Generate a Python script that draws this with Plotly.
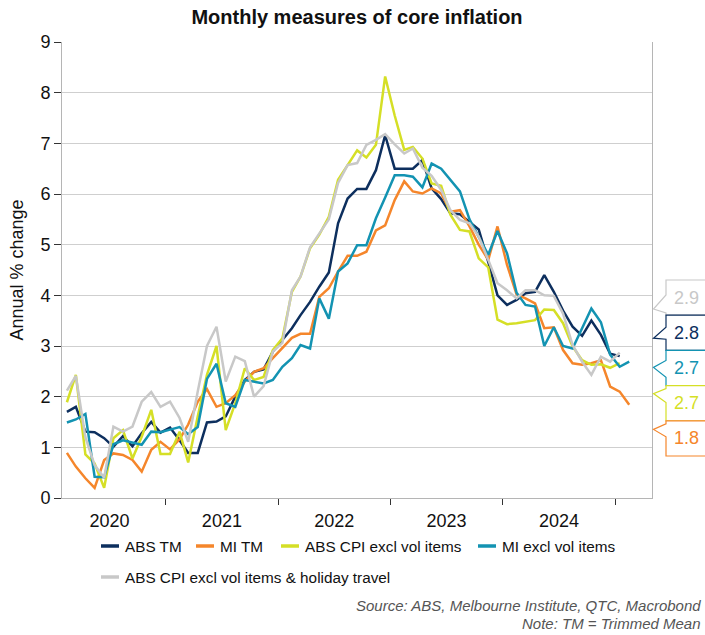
import plotly.graph_objects as go

# ---------------- data ----------------
# monthly observations, Feb 2020 .. Feb 2025 (plotted mid-month)
months = [f"{2020 + (m // 12)}-{m % 12 + 1:02d}-15" for m in range(1, 62)]

abs_tm = [1.70, 1.80, 1.31, 1.30, 1.18, 1.01, 1.22, 1.02, 1.28, 1.50, 1.29, 1.39,
          1.14, 0.89, 0.89, 1.49, 1.51, 1.61, 2.00, 2.33, 2.49, 2.54, 2.89, 3.12,
          3.35, 3.61, 3.87, 4.17, 4.45, 5.42, 5.91, 6.10, 6.10, 6.47, 7.16, 6.50,
          6.50, 6.50, 6.67, 6.11, 5.90, 5.62, 5.60, 5.45, 5.30, 4.66, 4.00, 3.81,
          3.91, 4.04, 4.07, 4.40, 4.07, 3.70, 3.38, 3.20, 3.50, 3.22, 2.85, 2.80]

mi_tm = [0.89, 0.62, 0.39, 0.20, 0.75, 0.88, 0.85, 0.75, 0.52, 0.95, 1.11, 0.96,
         1.16, 1.45, 1.90, 2.15, 1.80, 1.87, 2.03, 2.30, 2.49, 2.56, 2.76, 2.95,
         3.16, 3.24, 3.24, 3.97, 4.14, 4.47, 4.78, 4.78, 4.86, 5.28, 5.38, 5.88,
         6.25, 6.05, 6.01, 6.11, 6.01, 5.65, 5.68, 5.36, 5.00, 4.70, 5.36, 4.60,
         4.02, 3.94, 3.84, 3.35, 3.37, 2.92, 2.66, 2.63, 2.66, 2.72, 2.20, 2.10, 1.84]

abs_ex = [1.89, 2.43, 0.86, 0.68, 0.20, 1.18, 1.34, 0.78, 1.21, 1.74, 0.87, 0.87,
          1.31, 0.70, 1.61, 2.43, 3.00, 1.34, 1.87, 2.56, 2.33, 2.39, 2.92, 3.15,
          4.07, 4.37, 4.93, 5.20, 5.55, 6.28, 6.57, 6.86, 6.72, 6.97, 8.32, 7.55,
          6.87, 6.93, 6.70, 6.21, 6.16, 5.59, 5.29, 5.26, 4.73, 4.55, 3.52, 3.43,
          3.45, 3.48, 3.51, 3.72, 3.71, 3.45, 2.99, 2.72, 2.63, 2.64, 2.57, 2.66]

mi_ex = [1.49, 1.55, 1.66, 0.42, 0.41, 1.06, 1.14, 1.09, 1.05, 1.31, 1.30, 1.35,
         1.40, 1.26, 1.40, 2.35, 2.65, 1.87, 1.80, 2.33, 2.30, 2.26, 2.33, 2.59,
         2.76, 3.02, 2.95, 3.94, 3.54, 4.47, 4.63, 4.99, 4.99, 5.52, 5.93, 6.37,
         6.37, 6.34, 6.13, 6.60, 6.50, 6.28, 6.05, 5.50, 5.15, 4.80, 5.27, 4.83,
         4.05, 3.81, 3.78, 3.00, 3.37, 3.00, 2.95, 3.35, 3.74, 3.47, 2.83, 2.59, 2.69]

abs_ex_hol = [2.12, 2.41, 1.20, 0.65, 0.40, 1.41, 1.31, 1.41, 1.90, 2.09, 1.80, 1.90,
              1.58, 1.11, 2.10, 3.00, 3.38, 2.30, 2.79, 2.70, 2.00, 2.21, 2.89, 3.06,
              4.10, 4.37, 4.95, 5.21, 5.50, 6.22, 6.57, 6.61, 6.97, 7.07, 7.18, 6.98,
              6.80, 6.90, 6.52, 6.36, 6.08, 5.68, 5.49, 5.42, 5.16, 4.70, 4.24, 4.10,
              3.94, 4.10, 4.10, 4.00, 3.99, 3.64, 3.02, 2.69, 2.43, 2.79, 2.69, 2.87]

series_names = ["ABS TM", "MI TM", "ABS CPI excl vol items", "MI excl vol items",
                "ABS CPI excl vol items & holiday travel"]
series_values = [abs_tm, mi_tm, abs_ex, mi_ex, abs_ex_hol]
series_colors = ["#0D2F5E", "#F5862B", "#D5DF26", "#1393B2", "#C8C8C8"]

# ---------------- layout geometry (pixels) ----------------
W, H = 705, 635
L, R, T, B = 62, 53, 42, 137
PW, PH = W - L - R, H - T - B
FONT = "Liberation Sans, Arial, sans-serif"


def px(X):
    return (X - L) / PW


def py(Y):
    return (H - B - Y) / PH


fig = go.Figure()
for name, vals, col in zip(series_names, series_values, series_colors):
    fig.add_trace(go.Scatter(x=months[:len(vals)], y=vals, name=name, mode="lines",
                             line=dict(color=col, width=2.5), showlegend=False))

shapes = []
annotations = []

# ---- end-value callouts (sorted by last value) ----
order = sorted(range(len(series_values)), key=lambda i: -series_values[i][-1])
box_top0, box_h = 280, 35.2
notch = [(15, 29, 33), (12, 23, 24), (10, 17, 27), (3, 8, 17), (3, 8.6, 16)]
bx0, tipx, bx1 = 666, 653.5, 712
for j, i in enumerate(order):
    top = box_top0 + j * box_h
    bot = top + box_h
    a, tip, b = notch[j]
    path = (f"M {px(bx1)},{py(top)} L {px(bx0)},{py(top)} L {px(bx0)},{py(top + a)} "
            f"L {px(tipx)},{py(top + tip)} L {px(bx0)},{py(top + b)} L {px(bx0)},{py(bot)} "
            f"L {px(bx1)},{py(bot)} Z")
    shapes.append(dict(type="path", xref="paper", yref="paper", path=path,
                       line=dict(color=series_colors[i], width=1.2), fillcolor="white",
                       layer="above"))
    annotations.append(dict(xref="paper", yref="paper", x=px(686), y=py(top + box_h / 2),
                            text=f"{series_values[i][-1]:.1f}", showarrow=False,
                            xanchor="center", yanchor="middle",
                            font=dict(family=FONT, size=18, color=series_colors[i])))

# ---- manual legend ----
legend_pos = [(101, 546), (196, 546), (281, 546), (478, 546), (101, 577)]
for (lx, ly), name, col in zip(legend_pos, series_names, series_colors):
    shapes.append(dict(type="line", xref="paper", yref="paper",
                       x0=px(lx), x1=px(lx + 18), y0=py(ly), y1=py(ly),
                       line=dict(color=col, width=3.5)))
    annotations.append(dict(xref="paper", yref="paper", x=px(lx + 22), y=py(ly),
                            text=name, showarrow=False, xanchor="left", yanchor="middle",
                            font=dict(family=FONT, size=15.3, color="#111111")))

# ---- source notes ----
for txt, yy in [("Source: ABS, Melbourne Institute, QTC, Macrobond", 605),
                ("Note: TM = Trimmed Mean", 623)]:
    annotations.append(dict(xref="paper", yref="paper", x=px(703), y=py(yy), text=f"<i>{txt}</i>",
                            showarrow=False, xanchor="right", yanchor="middle",
                            font=dict(family=FONT, size=15, color="#555555")))

fig.update_layout(
    width=W, height=H,
    margin=dict(l=L, r=R, t=T, b=B, pad=0),
    paper_bgcolor="white", plot_bgcolor="white",
    font=dict(family=FONT, size=18, color="#111111"),
    title=dict(text="<b>Monthly measures of core inflation</b>", x=0.5, xref="paper",
               y=1 - 17 / H, yref="container", yanchor="middle", xanchor="center",
               font=dict(family=FONT, size=20, color="#111111")),
    xaxis=dict(type="date", range=["2020-01-30", "2025-04-30"],
               tick0="2020-01-01", dtick="M12", tickformat="%Y", ticklabelmode="period",
               ticks="outside", ticklen=6, tickcolor="#333333", tickwidth=1,
               showline=True, linecolor="#b5b5b5", linewidth=1, showgrid=False,
               zeroline=False, tickfont=dict(size=18)),
    yaxis=dict(range=[0, 9], dtick=1, tick0=0, showgrid=True, gridcolor="#cfcfcf",
               gridwidth=1, showline=True, linecolor="#b5b5b5", linewidth=1, mirror=True,
               ticks="outside", ticklen=7, tickcolor="#333333", zeroline=False,
               tickfont=dict(size=18),
               title=dict(text="Annual % change", font=dict(size=18), standoff=12)),
    shapes=shapes, annotations=annotations,
)

fig.write_html("out.html", config={"displayModeBar": False})
